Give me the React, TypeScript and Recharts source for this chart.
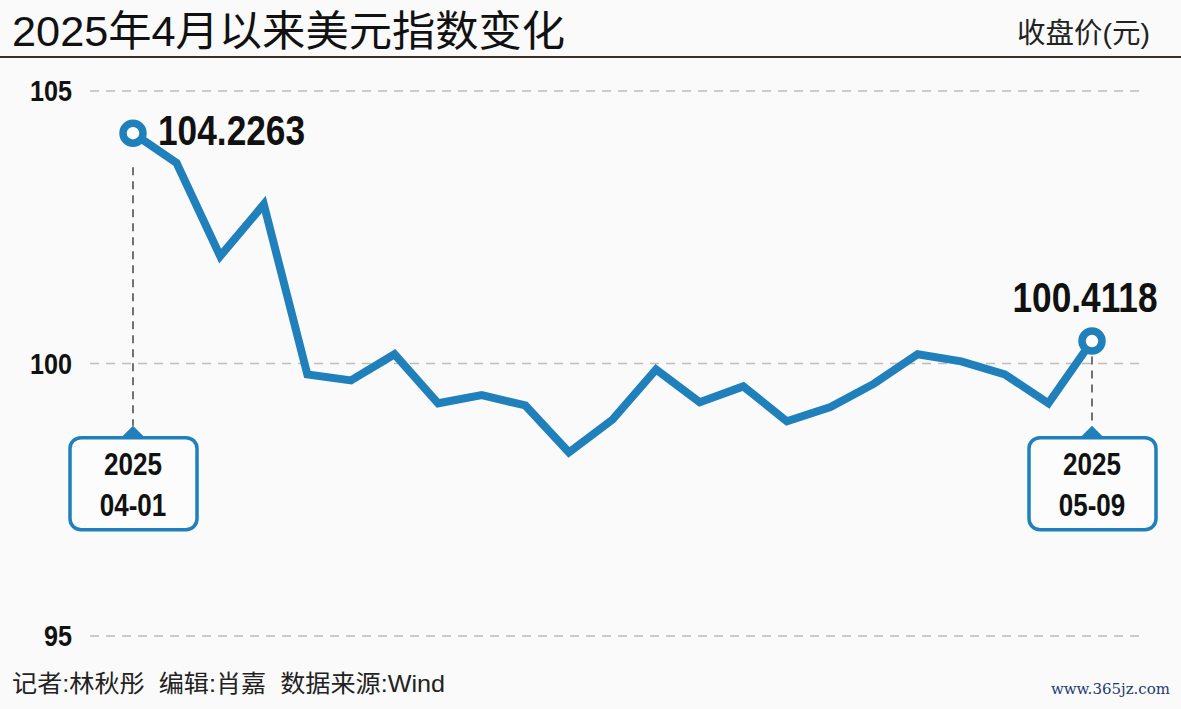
import React from 'react';
import { LineChart, Line, XAxis, YAxis, CartesianGrid, ReferenceLine, ReferenceDot } from 'recharts';

const dates = ['04-01', '04-02', '04-03', '04-04', '04-11', '04-14', '04-15', '04-16', '04-17', '04-18', '04-21', '04-22', '04-23', '04-24', '04-25', '04-28', '04-29', '04-30', '05-01', '05-02', '05-05', '05-06', '05-09'];
const closes = [104.2263, 103.68, 101.97, 102.92, 99.8, 99.69, 100.17, 99.27, 99.42, 99.23, 98.37, 98.97, 99.89, 99.29, 99.58, 98.94, 99.2, 99.63, 100.17, 100.04, 99.8, 99.27, 100.4118];
const yTicks = [95, 100, 105];
const yDomain = [95, 105];
const year = '2025';
const calloutTip = 98.86;
const leaderStart = [103.6, 100.13];

const title = '2025年4月以来美元指数变化';
const unitLabel = '收盘价(元)';
const footer = '记者:林秋彤  编辑:肖嘉  数据来源:Wind';
const siteMark = 'www.365jz.com';

const data = dates.map((d, i) => ({ date: d, close: closes[i] }));

const BLUE = '#1f80bb';
const NUM_FONT = "'Liberation Sans', Arial, sans-serif";
const CJK_FONT = "'Liberation Sans', 'Noto Sans CJK SC', sans-serif";

const NarrowText = ({ x, y, anchor = 'start', size, children }: any) => (
  <text
    transform={`translate(${x},${y}) scale(0.84,1)`}
    x={0}
    y={0}
    textAnchor={anchor}
    dominantBaseline="central"
    fontFamily={NUM_FONT}
    fontWeight={700}
    fontSize={size}
    fill="#111"
  >
    {children}
  </text>
);

const YTick = (props: any) => {
  const { x, y, payload } = props;
  return <NarrowText x={x} y={y} anchor="end" size={30}>{payload.value}</NarrowText>;
};

const last = data.length - 1;

const renderDot = (props: any) => {
  const { cx, cy, index } = props;
  if (index !== 0 && index !== last) return <g key={`dot-${index}`} />;
  const label = closes[index].toFixed(4);
  return (
    <g key={`dot-${index}`}>
      <circle cx={cx} cy={cy} r={10} fill="#fff" stroke={BLUE} strokeWidth={7.5} />
      {index === 0 ? (
        <NarrowText x={cx + 25} y={cy - 3} size={42}>{label}</NarrowText>
      ) : (
        <NarrowText x={cx - 7} y={cy - 44} anchor="middle" size={42}>{label}</NarrowText>
      )}
    </g>
  );
};

const makeCallout = (dateLabel: string) => (props: any) => {
  const { cx, cy } = props;
  return (
    <g>
      <path d={`M${cx},${cy} L${cx + 12},${cy + 12} L${cx - 12},${cy + 12} Z`} fill={BLUE} />
      <rect x={cx - 63} y={cy + 12} width={127} height={92} rx={11} ry={11} fill="#fcfcfc" stroke={BLUE} strokeWidth={3.5} />
      <NarrowText x={cx} y={cy + 39} anchor="middle" size={31}>{year}</NarrowText>
      <NarrowText x={cx} y={cy + 80} anchor="middle" size={31}>{dateLabel}</NarrowText>
    </g>
  );
};

export default function App() {
  return (
    <div style={{ position: 'absolute', left: 0, top: 0, width: 1181, height: 709, background: '#fafafa', overflow: 'hidden' }}>
      <svg width={1181} height={709} style={{ position: 'absolute', left: 0, top: 0 }}>
        <text x={12} y={46} fontFamily={CJK_FONT} fontSize={42} fill="#111" textLength={553} lengthAdjust="spacingAndGlyphs">
          {title}
        </text>
        <text x={1150} y={43} textAnchor="end" fontFamily={CJK_FONT} fontSize={28.5} fill="#222">
          {unitLabel}
        </text>
        <rect x={0} y={56} width={1181} height={2} fill="#3b2f2a" />
        <text x={12} y={692} fontFamily={CJK_FONT} fontSize={24} fill="#222" style={{ whiteSpace: 'pre' }} textLength={433} lengthAdjust="spacingAndGlyphs">
          {footer}
        </text>
        <text x={1170} y={694} textAnchor="end" fontFamily="'DejaVu Serif', 'Liberation Serif', serif" fontSize={15} fill="#1d3b6e">
          {siteMark}
        </text>
      </svg>
      <div style={{ position: 'absolute', left: 0, top: 0 }}>
        <LineChart width={1181} height={709} data={data} margin={{ top: 91, right: 35, bottom: 73, left: 0 }}>
          <CartesianGrid vertical={false} stroke="#bdbdbd" strokeDasharray="9 7" strokeWidth={1.5} />
          <XAxis dataKey="date" hide scale="point" padding={{ left: 43, right: 54 }} />
          <YAxis
            domain={yDomain}
            ticks={yTicks}
            width={90}
            axisLine={false}
            tickLine={false}
            tickSize={0}
            tickMargin={18}
            tick={<YTick />}
            interval={0}
          />
          <ReferenceLine segment={[{ x: dates[0], y: leaderStart[0] }, { x: dates[0], y: calloutTip }]} stroke="#444" strokeWidth={1.5} strokeDasharray="8 6" />
          <ReferenceLine segment={[{ x: dates[last], y: leaderStart[1] }, { x: dates[last], y: calloutTip }]} stroke="#444" strokeWidth={1.5} strokeDasharray="8 6" />
          <ReferenceDot x={dates[0]} y={calloutTip} shape={makeCallout(dates[0])} />
          <ReferenceDot x={dates[last]} y={calloutTip} shape={makeCallout(dates[last])} />
          <Line type="linear" dataKey="close" stroke={BLUE} strokeWidth={8} dot={renderDot} activeDot={false} isAnimationActive={false} />
        </LineChart>
      </div>
    </div>
  );
}
